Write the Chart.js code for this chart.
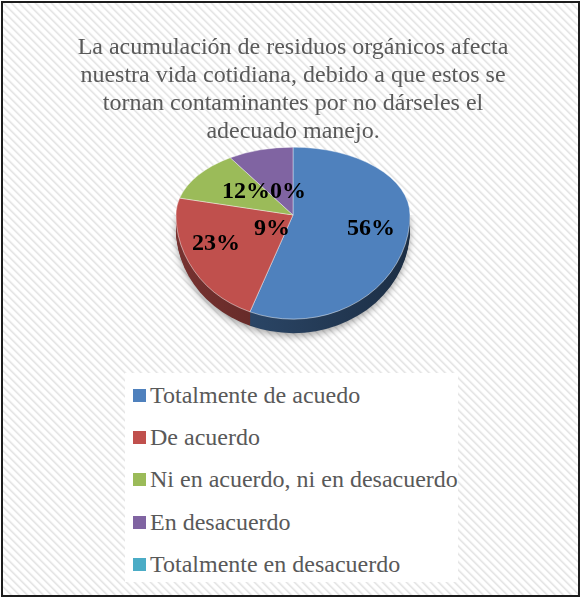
<!DOCTYPE html>
<html>
<head>
<meta charset="utf-8">
<script src="https://cdn.jsdelivr.net/npm/chart.js@4"></script>
<style>
  html, body { margin: 0; padding: 0; background: #fff; }
  #frame {
    position: absolute; left: 1px; top: 1px; width: 579px; height: 596px;
    box-sizing: border-box; border: 2px solid #1c1c1c;
  }
  #chart { position: absolute; left: 0; top: 0; }
  #legend {
    position: absolute; left: 125px; top: 373px; width: 333px; height: 209px;
    box-sizing: border-box; padding: 1px 0 0 8px; background: #fff;
    font: 24px "Liberation Serif", "Times New Roman", serif; color: #595959;
  }
  #legend div { line-height: 42.2px; white-space: nowrap; }
  #legend span.box {
    display: inline-block; width: 13px; height: 13px; margin-right: 4px; vertical-align: 1px;
  }
</style>
</head>
<body>
<canvas id="chart" width="582" height="598"></canvas>
<div id="frame"></div>
<div id="legend"></div>
<script>
const titleLines = [
  'La acumulación de residuos orgánicos afecta',
  'nuestra vida cotidiana, debido a que estos se',
  'tornan contaminantes por no dárseles el',
  'adecuado manejo.'
];
const categories = [
  'Totalmente de acuedo',
  'De acuerdo',
  'Ni en acuerdo, ni en desacuerdo',
  'En desacuerdo',
  'Totalmente en desacuerdo'
];
const values = [56, 23, 12, 9, 0];
const colors = ['#4f81bd', '#c0504d', '#9bbb59', '#8064a2', '#4bacc6'];
// where Excel put each percentage label, relative to the pie centre
const labelNudge = [[78, 14], [-77, 29], [-47, -23], [-21, 14], [-5, -23]];

const shade = (hex, f) => {
  const n = parseInt(hex.slice(1), 16);
  const r = Math.round(((n >> 16) & 255) * f);
  const g = Math.round(((n >> 8) & 255) * f);
  const b = Math.round((n & 255) * f);
  return `rgb(${r},${g},${b})`;
};

const squash = (ctx, cx, cy, k) => {
  ctx.translate(cx, cy);
  ctx.scale(1, k);
  ctx.translate(-cx, -cy);
};

// light diagonal hatch behind everything
const hatch = {
  id: 'hatch',
  beforeDraw(chart) {
    const tile = document.createElement('canvas');
    tile.width = 8; tile.height = 8;
    const tctx = tile.getContext('2d');
    const img = tctx.createImageData(8, 8);
    const tone = [228, 236, 248, 255, 255, 255, 255, 244];
    for (let y = 0; y < 8; y++) {
      for (let x = 0; x < 8; x++) {
        const v = tone[((x - y) % 8 + 8) % 8];
        const p = (y * 8 + x) * 4;
        img.data[p] = img.data[p + 1] = img.data[p + 2] = v;
        img.data[p + 3] = 255;
      }
    }
    tctx.putImageData(img, 0, 0);
    const ctx = chart.ctx;
    ctx.save();
    ctx.fillStyle = ctx.createPattern(tile, 'repeat');
    ctx.fillRect(3, 3, chart.width - 6, chart.height - 6);
    ctx.restore();
  }
};

// fake perspective: back half flatter than the front half
const pie3d = {
  id: 'pie3d',
  beforeDatasetDraw(chart, args, opts) {
    const ctx = chart.ctx;
    const arcs = args.meta.data;
    const cx = arcs[0].x, cy = arcs[0].y, r = arcs[0].outerRadius;
    const W = chart.width, H = chart.height;

    // side wall, only the front half shows
    ctx.save();
    ctx.beginPath();
    ctx.rect(0, cy, W, H - cy);
    ctx.clip();
    for (let i = opts.depth; i >= 1; i--) {
      ctx.save();
      ctx.translate(0, i);
      squash(ctx, cx, cy, opts.front);
      if (i === opts.depth) {
        ctx.shadowColor = 'rgba(0,0,0,0.35)';
        ctx.shadowBlur = 7;
        ctx.shadowOffsetY = 3;
      }
      arcs.forEach((arc, j) => {
        if (arc.endAngle - arc.startAngle <= 0) return;
        const g = ctx.createLinearGradient(cx - r, 0, cx + r, 0);
        g.addColorStop(0, shade(colors[j], 0.62));
        g.addColorStop(1, shade(colors[j], 0.36));
        ctx.fillStyle = g;
        ctx.beginPath();
        ctx.moveTo(cx, cy);
        ctx.arc(cx, cy, r, arc.startAngle, arc.endAngle);
        ctx.closePath();
        ctx.fill();
      });
      ctx.restore();
    }
    ctx.restore();

    // top face in two halves
    [[0, cy, opts.back], [cy, H, opts.front]].forEach(([y0, y1, k]) => {
      ctx.save();
      ctx.beginPath();
      ctx.rect(0, y0, W, y1 - y0);
      ctx.clip();
      squash(ctx, cx, cy, k);
      arcs.forEach((arc) => arc.draw(ctx, chart.chartArea));
      ctx.restore();
    });
    return false;
  },
  afterDraw(chart) {
    const ctx = chart.ctx;
    const arcs = chart.getDatasetMeta(0).data;
    const total = values.reduce((a, b) => a + b, 0);
    ctx.save();
    ctx.font = 'bold 24px "Liberation Serif", "Times New Roman", serif';
    ctx.fillStyle = '#000';
    ctx.textAlign = 'center';
    ctx.textBaseline = 'middle';
    arcs.forEach((arc, j) => {
      const pct = Math.round(values[j] / total * 100) + '%';
      ctx.fillText(pct, arc.x + labelNudge[j][0], arc.y + labelNudge[j][1]);
    });
    ctx.restore();
  }
};

const chart = new Chart(document.getElementById('chart'), {
  type: 'pie',
  data: {
    labels: categories,
    datasets: [{
      data: values,
      backgroundColor: colors,
      borderColor: 'rgba(255,255,255,0.5)',
      borderWidth: 1,
      radius: 117,
      clip: false
    }]
  },
  options: {
    responsive: false,
    animation: false,
    layout: { padding: { left: 4, right: 0, top: 0, bottom: 318 } },
    plugins: {
      legend: { display: false },
      tooltip: { enabled: false },
      title: {
        display: true,
        text: titleLines,
        color: '#595959',
        font: { family: '"Liberation Serif", "Times New Roman", serif', size: 24, weight: 'normal', lineHeight: 28 / 24 },
        padding: { top: 34, bottom: 4 }
      },
      pie3d: { back: 0.58, front: 0.89, depth: 14 }
    }
  },
  plugins: [hatch, pie3d]
});

const items = chart.options.plugins.legend.labels.generateLabels(chart);
const legendEl = document.getElementById('legend');
items.forEach((it) => {
  const row = document.createElement('div');
  const box = document.createElement('span');
  box.className = 'box';
  box.style.background = it.fillStyle;
  row.appendChild(box);
  row.appendChild(document.createTextNode(it.text));
  legendEl.appendChild(row);
});
</script>
</body>
</html>
